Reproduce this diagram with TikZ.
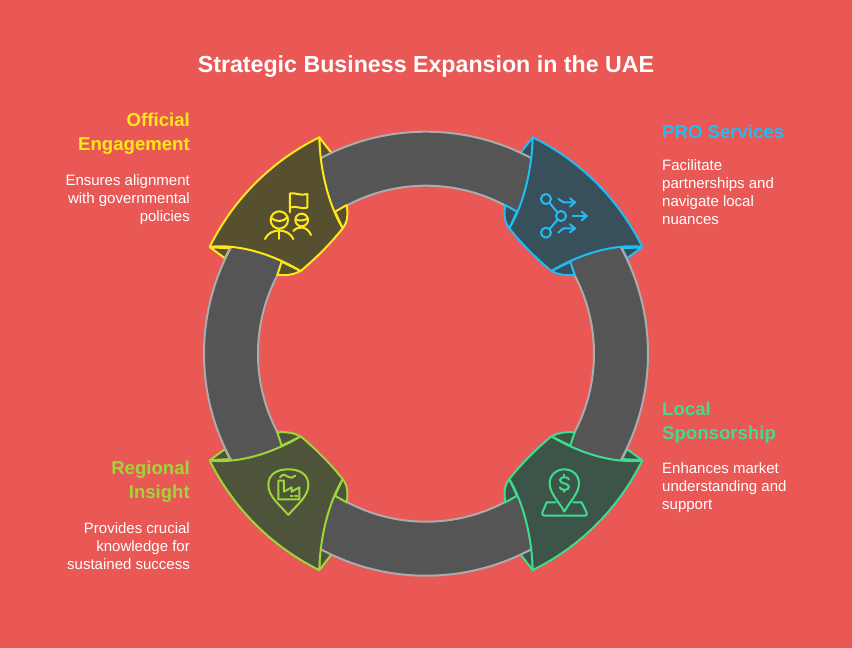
\documentclass[tikz,border=0pt]{standalone}
\usepackage{fontspec}
\setmainfont{Liberation Sans}
\usetikzlibrary{positioning}
\definecolor{backred}{HTML}{E95855}
\definecolor{ringgray}{HTML}{555555}
\definecolor{ringedge}{HTML}{ABABAB}
\definecolor{offline}{HTML}{FFE81A}
\definecolor{offfill}{HTML}{575030}
\definecolor{proline}{HTML}{22BCF2}
\definecolor{profill}{HTML}{38505C}
\definecolor{locline}{HTML}{3FDB8F}
\definecolor{locfill}{HTML}{3C5548}
\definecolor{regline}{HTML}{9ED53A}
\definecolor{regfill}{HTML}{4E543A}
\tikzset{
  heading/.style={font=\fontsize{18.6}{24}\selectfont\bfseries,inner sep=0pt},
  bodyl/.style={font=\fontsize{15}{18}\selectfont,text=white,inner sep=0pt,align=right},
  bodyr/.style={font=\fontsize{15}{18}\selectfont,text=white,inner sep=0pt,align=left},
  icon/.style={line width=2pt,line cap=round,line join=round,x=.3333pt,y=-.3333pt}
}
% the four end pieces share one outline, only mirrored
\newcommand{\outertips}[2]{
  \filldraw[fill=#1,draw=#2,line width=2pt,line join=round]
    (-106.7,216.4) -- (-94.3,200.4) -- (-106.7,194.7) -- cycle
    (-216,106.4) -- (-201,95.4) -- (-196,105.4) -- cycle;
}
\newcommand{\innertips}[2]{
  \filldraw[fill=#1,draw=#2,line width=2pt,line join=round]
    (-83.3,125.4) .. controls (-78,132) and (-78,140) .. (-79.3,148.7) -- (-91,142) -- cycle
    (-125.3,82.7) .. controls (-132,79) and (-140,78) .. (-148.7,78.7) -- (-144.3,92) -- cycle;
}
\newcommand{\piece}[2]{
  \filldraw[fill=#1,draw=#2,line width=2pt,line join=round]
    (-106.7,216.4) arc[start angle=116.25,end angle=153.75,radius=241]
    .. controls (-186,110) and (-153,99) .. (-125.3,82.7)
    .. controls (-113,93) and (-97,108) .. (-83.3,125.4)
    .. controls (-98,150) and (-106,185) .. cycle;
}
\begin{document}
\begin{tikzpicture}[x=1pt,y=1pt]
  \useasboundingbox (-426,-294.3) rectangle (426,353.7);
  \fill[backred] (-426,-294.3) rectangle (426,353.7);

  % tips under the ring
  \outertips{offfill}{offline}
  \begin{scope}[xscale=-1] \outertips{profill}{proline} \end{scope}
  \begin{scope}[yscale=-1] \outertips{regfill}{regline} \end{scope}
  \begin{scope}[scale=-1] \outertips{locfill}{locline} \end{scope}

  % ring
  \filldraw[fill=ringgray,draw=ringedge,line width=2pt,even odd rule]
    (0,0) circle (222) (0,0) circle (168);

  % end pieces
  \innertips{offfill}{offline}
  \piece{offfill}{offline}
  \begin{scope}[xscale=-1]
    \innertips{profill}{proline}
    \piece{profill}{proline}
  \end{scope}
  \begin{scope}[yscale=-1]
    \innertips{regfill}{regline}
    \piece{regfill}{regline}
  \end{scope}
  \begin{scope}[scale=-1]
    \innertips{locfill}{locline}
    \piece{locfill}{locline}
  \end{scope}

  % icon for Official Engagement
  \begin{scope}[shift={(-171,168.7)},icon,draw=offline]
    \draw (73,105) circle (26);
    \draw (140,105) circle (19);
    \draw (48,98) .. controls (62,112) and (85,112) .. (98,96);
    \draw (122,103) .. controls (132,108) and (148,108) .. (158,100);
    \draw (30,162) .. controls (45,128) and (100,128) .. (115,162);
    \draw (73,131) -- (73,162);
    \draw (115,138) .. controls (130,120) and (158,125) .. (168,150);
    \draw (105,82) -- (105,25) .. controls (122,22) and (138,34) .. (157,27)
      -- (157,68) .. controls (138,74) and (122,60) .. (105,68);
  \end{scope}

  % icon for PRO Services
  \begin{scope}[shift={(104,168.7)},icon,draw=proline]
    \draw (48,42) circle (15);
    \draw (93,93) circle (15);
    \draw (48,143) circle (15);
    \draw (59,54) -- (82,82);
    \draw (82,105) -- (59,132);
    \draw (85,42) -- (100,52) -- (135,52);
    \draw (120,40) -- (135,52) -- (120,65);
    \draw (128,93) -- (170,93);
    \draw (155,80) -- (170,93) -- (155,106);
    \draw (85,143) -- (100,130) -- (135,130);
    \draw (120,118) -- (135,130) -- (120,142);
  \end{scope}

  % icon for Regional Insight
  \begin{scope}[shift={(-166,-106.3)},icon,draw=regline]
    \draw (85,165) .. controls (60,135) and (25,110) .. (25,75)
      .. controls (25,42) and (52,28) .. (85,28)
      .. controls (118,28) and (145,42) .. (145,75)
      .. controls (145,110) and (110,135) .. (85,165);
    \draw (55,62) -- (55,118) -- (118,118) -- (118,82) -- (95,95) -- (95,82)
      -- (72,95) -- (72,62) -- cycle;
    \draw (92,108) -- (98,108);
    \draw (105,108) -- (112,108);
    \draw (60,52) .. controls (68,40) and (78,44) .. (84,50)
      .. controls (90,56) and (100,54) .. (106,47);
  \end{scope}

  % icon for Local Sponsorship
  \begin{scope}[shift={(109,-106.3)},icon,draw=locline]
    \draw (88,155) .. controls (72,125) and (44,100) .. (44,70)
      .. controls (44,45) and (64,28) .. (88,28)
      .. controls (112,28) and (132,45) .. (132,70)
      .. controls (132,100) and (104,125) .. (88,155);
    \draw (102,58) .. controls (98,50) and (78,48) .. (75,60)
      .. controls (73,72) and (100,68) .. (102,80)
      .. controls (103,92) and (78,93) .. (74,82);
    \draw (88,44) -- (88,50);
    \draw (88,90) -- (88,96);
    \draw (62,127) -- (35,127) -- (22,158) .. controls (21,164) and (24,167) .. (28,167)
      -- (150,167) .. controls (155,167) and (157,163) .. (155,158) -- (140,127) -- (115,127);
  \end{scope}

  % title
  \node[font=\fontsize{23.2}{28}\selectfont\bfseries,text=white,inner sep=0pt] (title) at (0,287.5) {Strategic Business Expansion in the UAE};

  % labels on the left
  \node[heading,text=offline,anchor=north east,align=right] (offhead) at (-236,240.5) {Official\\Engagement};
  \node[bodyl,below=19pt of offhead.south east,anchor=north east] (offbody) {Ensures alignment\\with governmental\\policies};
  \node[heading,text=regline,anchor=north east,align=right] (reghead) at (-236,-107.5) {Regional\\Insight};
  \node[bodyl,below=19pt of reghead.south east,anchor=north east] (regbody) {Provides crucial\\knowledge for\\sustained success};

  % labels on the right
  \node[heading,text=proline,anchor=north west,align=left] (prohead) at (236,229) {PRO Services};
  \node[bodyr,below=21pt of prohead.south west,anchor=north west] (probody) {Facilitate\\partnerships and\\navigate local\\nuances};
  \node[heading,text=locline,anchor=north west,align=left] (lochead) at (236,-48) {Local\\Sponsorship};
  \node[bodyr,below=19pt of lochead.south west,anchor=north west] (locbody) {Enhances market\\understanding and\\support};
\end{tikzpicture}
\end{document}
